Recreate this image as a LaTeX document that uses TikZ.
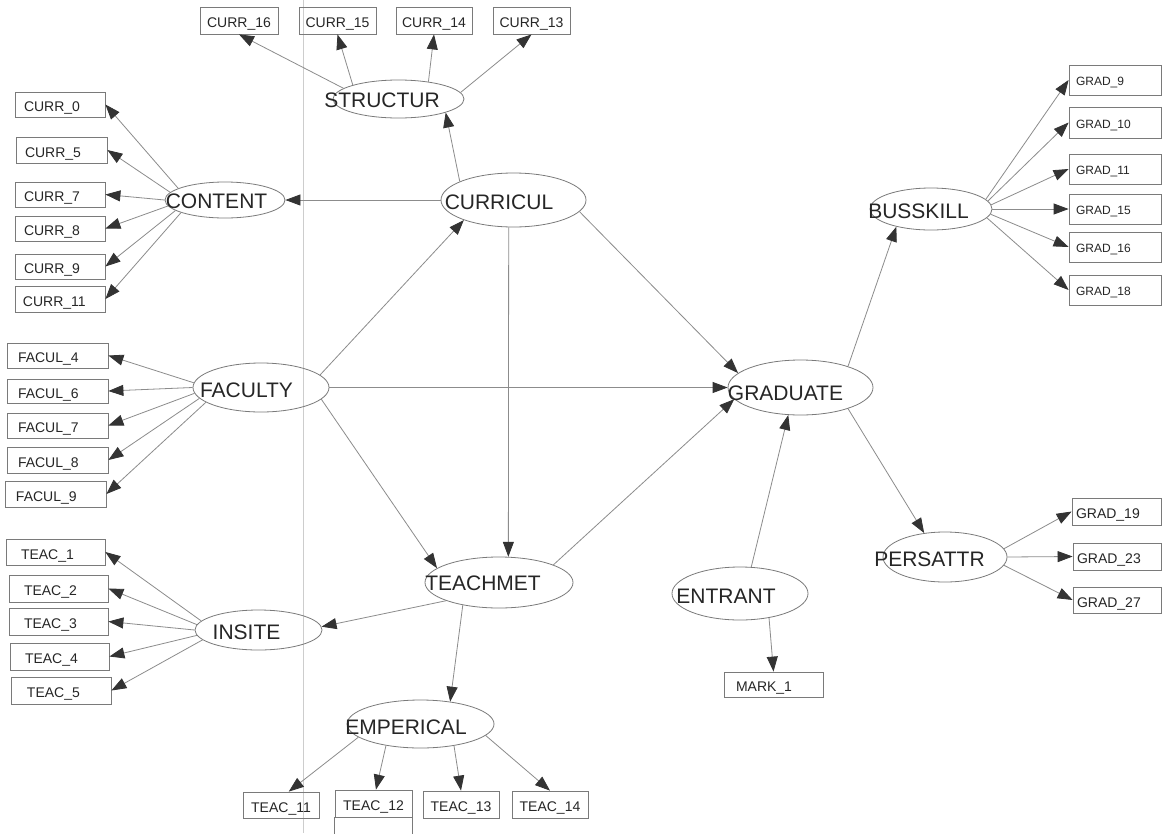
\documentclass[tikz,border=0pt]{standalone}
\usepackage{fontspec}
\setmainfont{Liberation Sans}
\usetikzlibrary{arrows.meta,shapes.geometric}
\definecolor{linec}{HTML}{8C8C8C}
\definecolor{edgec}{HTML}{7A7A7A}
\definecolor{tipc}{HTML}{333333}
\definecolor{txtc}{HTML}{262626}
\definecolor{fadec}{HTML}{CDCDCD}
\begin{document}
\begin{tikzpicture}[x=1pt,y=-1pt,
  lat/.style n args={2}{draw=edgec, line width=0.8pt, ellipse, minimum width=#1, minimum height=#2, inner sep=0pt},
  lattext/.style={font=\fontsize{21}{21}\selectfont, text=txtc, inner sep=0pt},
  obs/.style n args={3}{draw=edgec, line width=0.8pt, rectangle, minimum height=#2, text width=#1, inner xsep=#3, inner ysep=0pt, align=left, font=\fontsize{14}{14}\selectfont, text=txtc, text height=14pt, text depth=0pt},
  ctr/.style={align=center},
  small/.style={font=\fontsize{12}{12}\selectfont, text height=11pt, text depth=0pt},
  arr/.style={draw=linec, line width=0.8pt, -{Triangle[length=15pt,width=11pt,color=tipc]}},
  artifact/.style={draw=fadec, line width=0.8pt}
]
\clip (0,0) rectangle (1162,833);
\fill[white] (0,0) rectangle (1162,833);
\draw[artifact] (303,0) -- (303,833);

% latent variables
\node[lat={131pt}{38pt}] (structur) at (398.5,99) {};
\node[lattext] (structurL) at (382,100.5) {STRUCTUR};
\node[lat={120pt}{36pt}] (content) at (225,200) {};
\node[lattext] (contentL) at (216.5,201) {CONTENT};
\node[lat={145pt}{54pt}] (curricul) at (513.5,200) {};
\node[lattext] (curriculL) at (499,202.5) {CURRICUL};
\node[lat={136pt}{49pt}] (faculty) at (261,387.5) {};
\node[lattext] (facultyL) at (246.5,390.5) {FACULTY};
\node[lat={127pt}{40pt}] (insite) at (258.5,630) {};
\node[lattext] (insiteL) at (246.5,632.5) {INSITE};
\node[lat={148pt}{51pt}] (teachmet) at (499,582.5) {};
\node[lattext] (teachmetL) at (483,583.5) {TEACHMET};
\node[lat={147pt}{48pt}] (emperical) at (420.5,724) {};
\node[lattext] (empericalL) at (406,727.5) {EMPERICAL};
\node[lat={145pt}{55pt}] (graduate) at (800.5,387.5) {};
\node[lattext] (graduateL) at (785.5,393.5) {GRADUATE};
\node[lat={122pt}{42pt}] (busskill) at (931,209) {};
\node[lattext] (busskillL) at (918.5,211.5) {BUSSKILL};
\node[lat={124pt}{50pt}] (persattr) at (945,557) {};
\node[lattext] (persattrL) at (929.5,559.5) {PERSATTR};
\node[lat={136pt}{53pt}] (entrant) at (740,593.5) {};
\node[lattext] (entrantL) at (726,596) {ENTRANT};

% observed: top
\node[obs={70pt}{27pt}{4pt},ctr] (curr16) at (239,20.5) {CURR\_16};
\node[obs={69pt}{27pt}{4pt},ctr] (curr15) at (337.5,20.5) {CURR\_15};
\node[obs={68pt}{27pt}{4pt},ctr] (curr14) at (434,20.5) {CURR\_14};
\node[obs={69pt}{27pt}{4pt},ctr] (curr13) at (531.5,20.5) {CURR\_13};
% observed: content
\node[obs={72pt}{25pt}{9pt}] (curr0) at (60,104.5) {CURR\_0};
\node[obs={73pt}{26pt}{9pt}] (curr5) at (61.5,150) {CURR\_5};
\node[obs={72pt}{25pt}{9pt}] (curr7) at (60,194.5) {CURR\_7};
\node[obs={72pt}{25pt}{9pt}] (curr8) at (60,228.5) {CURR\_8};
\node[obs={72pt}{25pt}{9pt}] (curr9) at (60,266.5) {CURR\_9};
\node[obs={74pt}{26pt}{8pt}] (curr11) at (60,299) {CURR\_11};
% observed: faculty
\node[obs={79pt}{25pt}{11pt}] (facul4) at (57.5,355.5) {FACUL\_4};
\node[obs={79pt}{24pt}{11pt}] (facul6) at (57.5,391) {FACUL\_6};
\node[obs={79pt}{25pt}{11pt}] (facul7) at (57.5,425.5) {FACUL\_7};
\node[obs={79pt}{26pt}{11pt}] (facul8) at (57.5,460) {FACUL\_8};
\node[obs={79pt}{26pt}{11pt}] (facul9) at (55.5,494) {FACUL\_9};
% observed: insite
\node[obs={69pt}{26pt}{15pt}] (teac1) at (55.5,552) {TEAC\_1};
\node[obs={69pt}{27pt}{15pt}] (teac2) at (58.5,588.5) {TEAC\_2};
\node[obs={69pt}{27pt}{15pt}] (teac3) at (58.5,621.5) {TEAC\_3};
\node[obs={69pt}{27pt}{15pt}] (teac4) at (59.5,656.5) {TEAC\_4};
\node[obs={68pt}{27pt}{16pt}] (teac5) at (61,690.5) {TEAC\_5};
% observed: emperical
\node[obs={68pt}{26pt}{4pt},ctr] (teac11) at (281,805) {TEAC\_11};
\node[obs={69pt}{27pt}{4pt},ctr] (teac12) at (373.5,803.5) {TEAC\_12};
\node[obs={68pt}{27pt}{4pt},ctr] (teac13) at (461,804.5) {TEAC\_13};
\node[obs={68pt}{27pt}{4pt},ctr] (teac14) at (550,804.5) {TEAC\_14};
\draw[draw=edgec, line width=0.8pt] (teac12.south west) -- ++(0,40);
\draw[draw=edgec, line width=0.8pt] (teac12.south east) -- ++(0,40);
% observed: entrant
\node[obs={75pt}{25pt}{12pt}] (mark1) at (773.5,684.5) {MARK\_1};
% observed: busskill
\node[obs={78pt}{30pt}{7pt},small] (grad9) at (1115,80) {GRAD\_9};
\node[obs={78pt}{31pt}{7pt},small] (grad10) at (1115,122.5) {GRAD\_10};
\node[obs={78pt}{30pt}{7pt},small] (grad11) at (1115,169) {GRAD\_11};
\node[obs={78pt}{30pt}{7pt},small] (grad15) at (1115,209) {GRAD\_15};
\node[obs={78pt}{30pt}{7pt},small] (grad16) at (1115,247) {GRAD\_16};
\node[obs={78pt}{30pt}{7pt},small] (grad18) at (1115,290) {GRAD\_18};
% observed: persattr
\node[obs={81pt}{27pt}{4pt}] (grad19) at (1116.5,511.5) {GRAD\_19};
\node[obs={80pt}{27pt}{4pt}] (grad23) at (1117,556.5) {GRAD\_23};
\node[obs={80pt}{26pt}{4pt}] (grad27) at (1117,600) {GRAD\_27};

% structural paths
\draw[arr] (curricul.161) -- (structur.-16);
\draw[arr] (curricul.west) -- (content.east);
\draw[arr] (curricul.-10.4) -- (graduate.167.6);
\draw[arr] (curricul.260) -- (teachmet.70);
\draw[arr] (faculty.12.4) -- (curricul.202.2);
\draw[arr] (faculty.east) -- (graduate.west);
\draw[arr] (faculty.-11.5) -- (teachmet.167.9);
\draw[arr] (teachmet.18.6) -- (graduate.190.7);
\draw[arr] (teachmet.199.9) -- (insite.3);
\draw[arr] (teachmet.212.7) -- (emperical.37.2);
\draw[arr] (graduate.24) -- (busskill.207);
\draw[arr] (graduate.-24) -- (persattr.131.8);
\draw[arr] (entrant.67) -- (graduate.246);
\draw[arr] (entrant.-40.7) -- (mark1.north);

% measurement paths
\draw[arr] (structur.169) -- (curr16.south);
\draw[arr] (structur.163.6) -- (curr15.south);
\draw[arr] (structur.30.4) -- (curr14.south);
\draw[arr] (structur.6) -- (curr13.south);

\draw[arr] (content.166) -- (curr0.east);
\draw[arr] (content.172) -- (curr5.east);
\draw[arr] (content.180) -- (curr7.east);
\draw[arr] (content.186) -- (curr8.east);
\draw[arr] (content.192) -- (curr9.east);
\draw[arr] (content.196) -- (curr11.east);

\draw[arr] (faculty.176) -- (facul4.east);
\draw[arr] (faculty.180) -- (facul6.east);
\draw[arr] (faculty.185) -- (facul7.east);
\draw[arr] (faculty.190) -- (facul8.east);
\draw[arr] (faculty.195) -- (facul9.east);

\draw[arr] (insite.171) -- (teac1.east);
\draw[arr] (insite.175) -- (teac2.east);
\draw[arr] (insite.180) -- (teac3.east);
\draw[arr] (insite.185) -- (teac4.east);
\draw[arr] (insite.190) -- (teac5.east);

\draw[arr] (emperical.192) -- (teac11.60);
\draw[arr] (emperical.212.2) -- (teac12.80);
\draw[arr] (emperical.-33) -- (teac13.north);
\draw[arr] (emperical.-10) -- (teac14.north);

\draw[arr] (busskill.10) -- (grad9.west);
\draw[arr] (busskill.8) -- (grad10.west);
\draw[arr] (busskill.4) -- (grad11.west);
\draw[arr] (busskill.0) -- (grad15.west);
\draw[arr] (busskill.-5) -- (grad16.west);
\draw[arr] (busskill.-9) -- (grad18.west);

\draw[arr] (persattr.8) -- (grad19.west);
\draw[arr] (persattr.0) -- (grad23.west);
\draw[arr] (persattr.-8) -- (grad27.west);
\end{tikzpicture}
\end{document}
